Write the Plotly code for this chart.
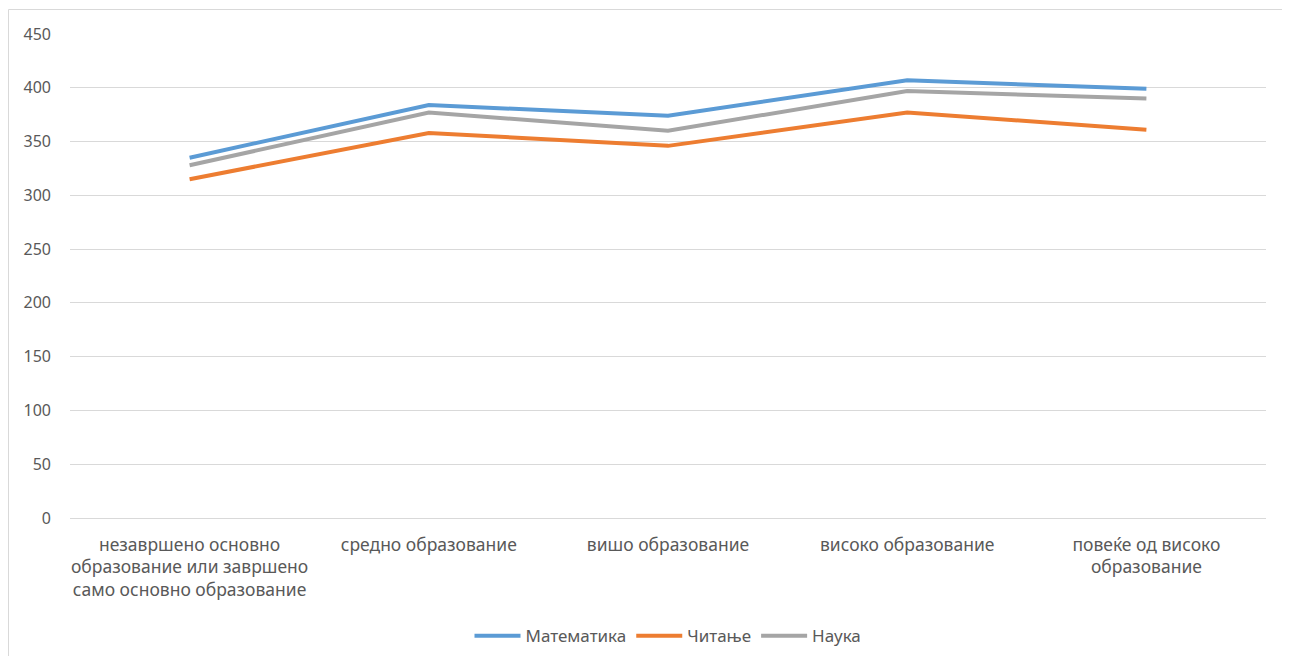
import plotly.graph_objects as go

# categories (education level) and scores
categories = [
    "незавршено основно<br>образование или завршено<br>само основно образование",
    "средно образование",
    "вишо образование",
    "високо образование",
    "повеќе од високо<br>образование",
]
math_scores = [335, 384, 374, 407, 399]
reading_scores = [315, 358, 346, 377, 361]
science_scores = [328, 377, 360, 397, 390]

y_ticks = [0, 50, 100, 150, 200, 250, 300, 350, 400, 450]

series = [
    ("Математика", math_scores, "#5B9BD5"),
    ("Читање", reading_scores, "#ED7D31"),
    ("Наука", science_scores, "#A5A5A5"),
]

fig = go.Figure()
for name, vals, color in series:
    fig.add_trace(go.Scatter(
        x=categories,
        y=vals,
        name=name,
        mode="lines",
        line=dict(color=color, width=4),
    ))

# page body has an 8px margin, so the figure is sized to fit inside it
fig.update_layout(
    width=1274,
    height=648,
    margin=dict(l=62, r=16, t=26, b=138, autoexpand=False),
    paper_bgcolor="white",
    plot_bgcolor="white",
    font=dict(family="Noto Sans, Open Sans, sans-serif", size=17, color="#595959"),
    showlegend=True,
    legend=dict(
        orientation="h",
        x=0.5,
        xanchor="center",
        y=-0.244,
        yanchor="middle",
        font=dict(size=17, color="#595959"),
        itemwidth=46,
    ),
)

fig.update_xaxes(
    type="category",
    range=[-0.5, 4.5],
    showgrid=False,
    showline=False,
    zeroline=False,
    ticks="",
    tickangle=0,
    automargin=False,
    tickfont=dict(size=17.5),
    ticklabelstandoff=14,
)
fig.update_yaxes(
    range=[0, 450],
    tickvals=y_ticks,
    showgrid=True,
    gridcolor="#D9D9D9",
    gridwidth=1,
    zeroline=True,
    zerolinecolor="#D9D9D9",
    zerolinewidth=1,
    showline=False,
    ticks="",
    automargin=False,
    tickfont=dict(size=16),
    ticklabelstandoff=18,
)

# outer chart border
fig.add_shape(
    type="rect",
    xref="paper", yref="paper",
    x0=-0.0514, x1=1.016, y0=-0.306, y1=1.0506,
    line=dict(color="#D9D9D9", width=1),
    fillcolor="rgba(0,0,0,0)",
    layer="below",
)

fig.write_html("out.html")
